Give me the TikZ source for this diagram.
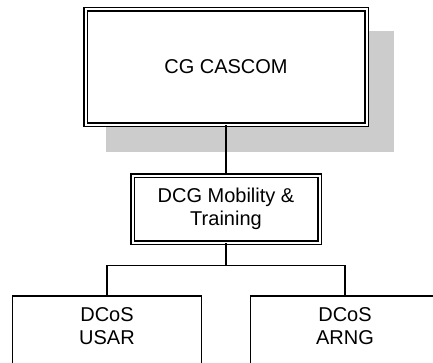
\documentclass[tikz,border=0pt]{standalone}
\usepackage{fontspec}
\setmainfont{Liberation Sans}
\tikzset{
  chartbox/.style={draw, fill=white, line width=1.5pt, align=center,
    font=\fontsize{20}{23}\selectfont},
  headbox/.style={chartbox, double, double distance=2pt, line width=1.3pt},
  lowbox/.style={chartbox, anchor=north, minimum width=189pt,
    inner ysep=12pt, text depth=60pt},
  link/.style={line width=1.5pt}
}
\begin{document}
\begin{tikzpicture}[x=1pt,y=-1pt]
	\clip (0,0) rectangle (433,362);
	% shadow behind the commander
	\fill[gray!40] (106,31) rectangle (394,152);
	\node[headbox, minimum width=281pt, minimum height=115.5pt] (cg) at (226,67) {CG CASCOM};
	\node[headbox, minimum width=187pt, minimum height=67pt] (dcg) at (226,209) {DCG Mobility \&\\Training};
	\node[lowbox] (usar) at (107,295) {DCoS\\USAR};
	\node[lowbox] (arng) at (345,295) {DCoS\\ARNG};
	% connectors
	\draw[link] (cg) -- (dcg);
	\draw[link] (dcg.south) -- ++(0,22.5) coordinate (split);
	\draw[link] (usar.north) |- (split) -| (arng.north);
\end{tikzpicture}
\end{document}
